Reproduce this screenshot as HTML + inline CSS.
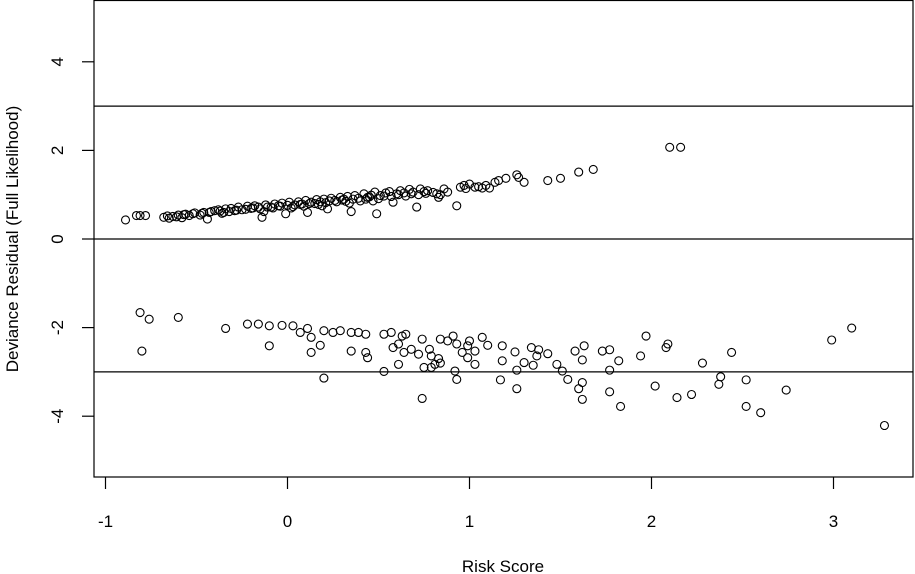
<!DOCTYPE html>
<html><head><meta charset="utf-8"><style>
html,body{margin:0;padding:0;background:#fff;}
svg{display:block;font-family:"Liberation Sans",Arial,sans-serif;}
</style></head><body>
<svg id="chart" width="915" height="574" viewBox="0 0 915 574" xmlns="http://www.w3.org/2000/svg">
<rect x="0" y="0" width="915" height="574" fill="#fff"/>
<g id="refs"></g>
<g id="pts"></g>
<rect x="94" y="0.5" width="819" height="476.5" fill="none" stroke="#000" stroke-width="1.2"/>
<g id="xax"></g>
<g id="yax"></g>
<text x="503" y="572" font-size="17" text-anchor="middle">Risk Score</text>
<text transform="translate(18,239) rotate(-90)" font-size="17" text-anchor="middle">Deviance Residual (Full Likelihood)</text>
</svg>
<script>
const xTicks = [-1, 0, 1, 2, 3];
const yTicks = [-4, -2, 0, 2, 4];
const refLines = [3, 0, -3];
const upperX = [-0.89,-0.83,-0.81,-0.78,-0.68,-0.65,-0.63,-0.60,-0.58,-0.56,-0.54,-0.51,-0.48,-0.46,-0.44,-0.42,-0.40,-0.38,-0.35,-0.34,-0.31,-0.29,-0.27,-0.25,-0.22,-0.20,-0.18,-0.16,-0.14,-0.12,-0.09,-0.07,-0.05,-0.03,-0.01,0.01,0.04,0.06,0.08,0.10,0.11,0.13,0.16,0.18,0.20,0.22,0.24,0.26,0.29,0.31,0.33,0.35,0.37,0.39,0.42,0.44,0.46,0.48,0.49,0.51,0.54,0.56,0.58,0.60,0.62,0.64,0.67,0.69,0.71,0.73,0.75,0.77,0.82,0.83,0.86,0.93,0.95,0.97,1.00,1.03,1.07,1.09,1.11,1.14,1.16,1.20,1.26,1.27,1.30,1.43,1.50,1.60,1.68,2.10,2.16,
 -0.66,-0.61,-0.57,-0.52,-0.47,-0.43,-0.37,-0.32,-0.28,-0.23,-0.19,-0.15,-0.11,-0.08,-0.04,0.00,0.03,0.07,0.09,0.12,0.15,0.17,0.21,0.23,0.27,0.30,0.32,0.36,0.40,0.43,0.45,0.50,0.53,0.57,0.61,0.65,0.68,0.72,0.76,0.80,0.84,0.88,0.98,1.05,-0.36,-0.13,0.02,0.19,0.34,0.47];
const upperY = [0.43,0.53,0.53,0.53,0.49,0.47,0.51,0.54,0.48,0.56,0.53,0.59,0.54,0.60,0.45,0.62,0.64,0.66,0.60,0.68,0.69,0.64,0.72,0.66,0.74,0.69,0.75,0.72,0.49,0.77,0.72,0.79,0.75,0.81,0.57,0.83,0.77,0.84,0.79,0.87,0.60,0.83,0.89,0.84,0.90,0.68,0.92,0.87,0.94,0.90,0.96,0.62,0.98,0.92,1.02,0.94,0.99,1.06,0.57,0.98,1.04,1.07,0.83,1.02,1.09,1.04,1.12,1.06,0.72,1.13,1.07,1.09,1.02,0.94,1.13,0.75,1.17,1.21,1.24,1.17,1.15,1.21,1.15,1.28,1.32,1.37,1.45,1.39,1.28,1.32,1.37,1.51,1.57,2.07,2.07,
 0.52,0.50,0.55,0.57,0.58,0.60,0.63,0.62,0.65,0.67,0.70,0.68,0.72,0.70,0.74,0.76,0.73,0.78,0.74,0.80,0.80,0.78,0.82,0.86,0.84,0.88,0.85,0.90,0.86,0.90,0.95,0.91,0.97,0.96,1.00,0.97,1.02,1.00,1.03,1.05,1.00,1.06,1.14,1.18,0.58,0.62,0.70,0.75,0.81,0.86];
const lowerX = [-0.81,-0.76,-0.60,-0.80,-0.34,-0.22,-0.16,-0.10,-0.03,0.03,0.07,0.11,0.13,0.18,0.13,0.20,0.25,0.29,0.35,0.39,0.43,-0.10,0.35,0.43,0.44,0.20,0.53,0.57,0.63,0.65,0.58,0.61,0.64,0.68,0.72,0.61,0.74,0.78,0.79,0.81,0.75,0.83,0.84,0.79,0.53,0.74,0.84,0.88,0.91,0.93,0.92,0.93,0.96,0.99,1.00,0.99,1.03,1.03,1.07,1.10,1.18,1.18,1.25,1.17,1.26,1.26,1.30,1.34,1.35,1.38,1.37,1.43,1.48,1.51,1.54,1.58,1.63,1.62,1.62,1.60,1.62,1.73,1.77,1.82,1.77,1.77,1.83,1.94,1.97,2.02,2.08,2.09,2.14,2.22,2.28,2.38,2.37,2.44,2.52,2.52,2.60,2.74,2.99,3.10,3.28];
const lowerY = [-1.66,-1.81,-1.77,-2.53,-2.02,-1.92,-1.92,-1.96,-1.95,-1.96,-2.11,-2.02,-2.22,-2.40,-2.56,-2.07,-2.11,-2.07,-2.11,-2.11,-2.15,-2.41,-2.53,-2.56,-2.68,-3.14,-2.15,-2.11,-2.19,-2.15,-2.45,-2.37,-2.56,-2.49,-2.60,-2.83,-2.26,-2.49,-2.64,-2.83,-2.90,-2.70,-2.80,-2.90,-2.99,-3.60,-2.26,-2.30,-2.19,-2.37,-2.98,-3.17,-2.56,-2.41,-2.30,-2.68,-2.83,-2.53,-2.22,-2.40,-2.41,-2.75,-2.55,-3.18,-2.96,-3.38,-2.79,-2.45,-2.85,-2.50,-2.64,-2.59,-2.83,-2.98,-3.17,-2.53,-2.41,-2.73,-3.24,-3.38,-3.62,-2.53,-2.50,-2.75,-2.96,-3.45,-3.78,-2.64,-2.19,-3.32,-2.45,-2.37,-3.58,-3.51,-2.80,-3.11,-3.28,-2.56,-3.18,-3.78,-3.92,-3.41,-2.28,-2.01,-4.21];

const NS = "http://www.w3.org/2000/svg";
function sx(v){ return 287.5 + v * 182; }
function sy(v){ return 239 - v * 44.3; }
function mk(tag, attrs, parent){
  const e = document.createElementNS(NS, tag);
  for (const k in attrs) e.setAttribute(k, attrs[k]);
  parent.appendChild(e);
  return e;
}
const refs = document.getElementById('refs');
refLines.forEach(v => {
  const l = mk('line', {x1:94, x2:913, y1:sy(v), y2:sy(v), stroke:'#000', 'stroke-width':1.2}, refs);
  
  
});
const xax = document.getElementById('xax');
xTicks.forEach(v => {
  const t = mk('line', {x1:sx(v), x2:sx(v), y1:477, y2:489, stroke:'#000', 'stroke-width':1.2}, xax);
  
  
  const lb = mk('text', {x:sx(v), y:527, 'font-size':17, 'text-anchor':'middle'}, xax);
  lb.textContent = String(v);
  
  
});
const yax = document.getElementById('yax');
yTicks.forEach(v => {
  const t = mk('line', {x1:82, x2:94, y1:sy(v), y2:sy(v), stroke:'#000', 'stroke-width':1.2}, yax);
  
  
  const lb = mk('text', {transform:'translate(63,' + sy(v) + ') rotate(-90)', 'font-size':17, 'text-anchor':'middle'}, yax);
  lb.textContent = String(v);
  
  
});
const pts = document.getElementById('pts');
function drawSeries(xs, ys){
  xs.forEach((x, i) => {
    const c = mk('circle', {cx:sx(x), cy:sy(ys[i]), r:4, fill:'none', stroke:'#000', 'stroke-width':1.1}, pts);
    
    
  });
}
drawSeries(upperX, upperY);
drawSeries(lowerX, lowerY);
</script>
</body></html>
